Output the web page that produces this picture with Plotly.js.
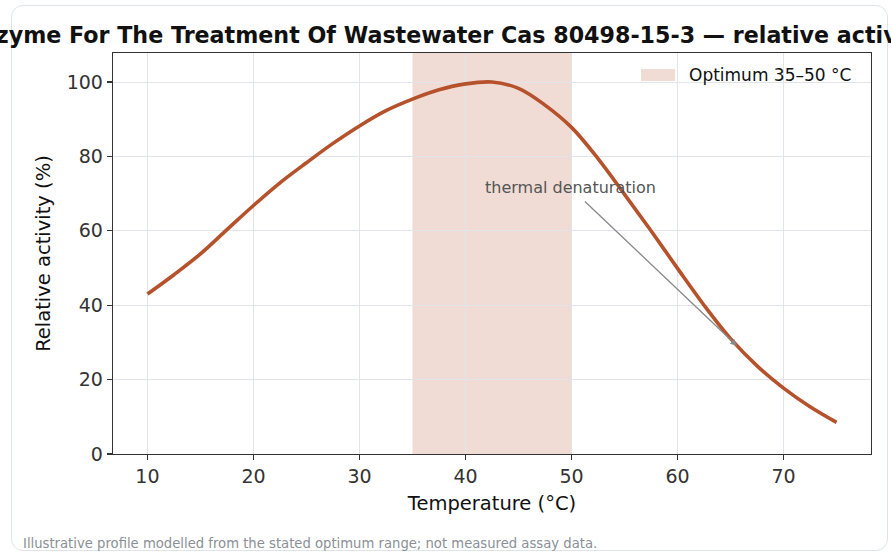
<!DOCTYPE html>
<html>
<head>
<meta charset="utf-8">
<script src="https://cdn.plot.ly/plotly-3.0.1.min.js"></script>
<style>
  html, body { margin: 0; padding: 0; width: 891px; height: 555px; background: #ffffff; overflow: hidden; }
  #card { position: absolute; left: 11px; top: 5px; width: 875px; height: 544px; border: 1px solid #dfe4e8; border-radius: 12px; background: #ffffff; }
  #chart { position: absolute; left: 0; top: 0; width: 891px; height: 555px; }
</style>
</head>
<body>
<div id="card"></div>
<div id="chart"></div>
<script>
// Data
const temperature = [10, 12.5, 15, 17.5, 20, 22.5, 25, 27.5, 30, 32.5, 35, 37.5, 40, 42.5, 45, 47.5, 50, 52.5, 55, 57.5, 60, 62.5, 65, 67.5, 70, 72.5, 75];
const activity    = [43.0, 48.2, 53.8, 60.3, 66.8, 72.9, 78.3, 83.5, 88.2, 92.3, 95.4, 97.9, 99.5, 100, 98.3, 93.8, 87.8, 79.4, 69.8, 60.0, 49.9, 40.0, 31.0, 23.7, 17.7, 12.7, 8.5];
const optimumRange = [35, 50];
const xTicks = [10, 20, 30, 40, 50, 60, 70];
const yTicks = [0, 20, 40, 60, 80, 100];
const annotationText = "thermal denaturation";
const annotationTextPos = [49.9, 71.6];
const annotationPoint = [65.6, 29.1];

const titleText = "Enzyme For The Treatment Of Wastewater Cas 80498-15-3 — relative activity profile";
const legendText = "Optimum " + optimumRange[0] + "–" + optimumRange[1] + " °C";
const footerText = "Illustrative profile modelled from the stated optimum range; not measured assay data.";

const lineColor = "#b5522b";
const bandColor = "rgba(181,82,43,0.2)";
const font = "DejaVu Sans, Verdana, sans-serif";

const traces = [
  {
    x: temperature,
    y: activity,
    type: "scatter",
    mode: "lines",
    line: { color: lineColor, width: 3.6, shape: "spline", smoothing: 1 },
    showlegend: false,
    hoverinfo: "x+y"
  }
];

const layout = {
  width: 891,
  height: 555,
  paper_bgcolor: "rgba(0,0,0,0)",
  plot_bgcolor: "rgba(0,0,0,0)",
  margin: { l: 113, r: 20, t: 53, b: 101, pad: 0 },
  font: { family: font, color: "#333333", size: 17 },
  showlegend: false,
  title: {
    text: "<b>" + titleText + "</b>",
    font: { family: font, size: 22.2, color: "#111111" },
    x: 0.5, xref: "paper", xanchor: "center",
    y: 1 - 35 / 555, yref: "container", yanchor: "middle"
  },
  xaxis: {
    range: [6.75, 78.25],
    tickvals: xTicks,
    ticktext: xTicks.map(String),
    ticks: "outside", ticklen: 5, tickwidth: 1.2, tickcolor: "#333333",
    tickfont: { size: 19, color: "#333333" },
    showline: true, linecolor: "#333333", linewidth: 1.3, mirror: true,
    showgrid: true, gridcolor: "#e1e5ea", gridwidth: 1,
    zeroline: false,
    title: { text: "Temperature (°C)", font: { size: 19.5, color: "#111111" }, standoff: 10 }
  },
  yaxis: {
    range: [0, 107.8],
    tickvals: yTicks,
    ticktext: yTicks.map(String),
    ticks: "outside", ticklen: 5, tickwidth: 1.2, tickcolor: "#333333",
    tickfont: { size: 19, color: "#333333" },
    showline: true, linecolor: "#333333", linewidth: 1.3, mirror: true,
    showgrid: true, gridcolor: "#e1e5ea", gridwidth: 1,
    zeroline: false,
    title: { text: "Relative activity (%)", font: { size: 19.5, color: "#111111" }, standoff: 10 }
  },
  shapes: [
    {
      type: "rect", xref: "x", yref: "paper",
      x0: optimumRange[0], x1: optimumRange[1], y0: 0, y1: 1,
      fillcolor: bandColor, line: { width: 0 },
      layer: "between"
    },
    // legend patch
    {
      type: "rect", xref: "paper", yref: "paper",
      x0: 0.6966, x1: 0.7414, y0: 0.930, y1: 0.960,
      fillcolor: bandColor, line: { width: 0 },
      layer: "above"
    }
  ],
  annotations: [
    {
      x: annotationPoint[0], y: annotationPoint[1], xref: "x", yref: "y",
      ax: annotationTextPos[0], ay: annotationTextPos[1], axref: "x", ayref: "y",
      text: annotationText,
      font: { size: 16, color: "#555555" },
      showarrow: true, arrowhead: 2, arrowsize: 1, arrowwidth: 1.3, arrowcolor: "#888888",
      startstandoff: 4
    },
    // legend label
    {
      x: 0.7573, xref: "paper", xanchor: "left",
      y: 0.945, yref: "paper", yanchor: "middle",
      text: legendText, showarrow: false,
      font: { size: 17, color: "#111111" }
    },
    // footer note
    {
      x: (21 - 113) / 758, xref: "paper", xanchor: "left",
      y: (454 - 543) / 401, yref: "paper", yanchor: "middle",
      text: footerText, showarrow: false,
      font: { size: 13.2, color: "#8a9096" }
    }
  ]
};

Plotly.newPlot("chart", traces, layout, { displayModeBar: false, staticPlot: true });
</script>
</body>
</html>
